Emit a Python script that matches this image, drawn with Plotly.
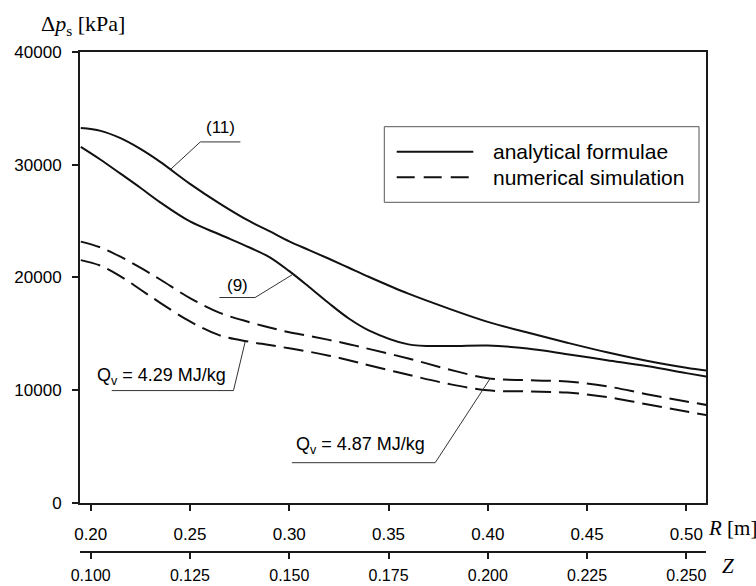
import plotly.graph_objects as go

# ---------------- data ----------------
R = [0.195, 0.205, 0.215, 0.225, 0.235, 0.25, 0.265, 0.28, 0.29, 0.30, 0.31, 0.32, 0.33,
     0.34, 0.36, 0.38, 0.40, 0.42, 0.44, 0.46, 0.48, 0.50, 0.51]

# analytical formula (11) - upper solid
anal_11 = [33250, 33000, 32350, 31400, 30250, 28300, 26550, 24980, 24100, 23200, 22420,
           21650, 20850, 20050, 18550, 17250, 16050, 15100, 14200, 13350, 12600, 11980, 11720]
# analytical formula (9) - lower solid
anal_9 = [31580, 30440, 29200, 27950, 26660, 24960, 23800, 22650, 21800, 20550, 19150,
          17700, 16350, 15300, 14050, 13900, 13950, 13680, 13180, 12650, 12130, 11500, 11190]
# numerical simulation, Qv = 4.87 MJ/kg - upper dashed
num_487 = [23170, 22650, 21830, 20860, 19810, 18160, 16850, 16020, 15550, 15130, 14800,
           14450, 14070, 13650, 12800, 11850, 11050, 10870, 10750, 10330, 9630, 8980, 8680]
# numerical simulation, Qv = 4.29 MJ/kg - lower dashed
num_429 = [21530, 21030, 20090, 18920, 17740, 16090, 14850, 14280, 14000, 13700, 13400,
           13050, 12650, 12200, 11350, 10550, 9970, 9880, 9770, 9380, 8740, 8090, 7790]

R_RANGE = [0.1946, 0.5099]
R_TICKS = [0.20, 0.25, 0.30, 0.35, 0.40, 0.45, 0.50]
R_TICKTEXT = ["0.20", "0.25", "0.30", "0.35", "0.40", "0.45", "0.50"]
Z_TICKS = [0.100, 0.125, 0.150, 0.175, 0.200, 0.225, 0.250]
Z_TICKTEXT = ["0.100", "0.125", "0.150", "0.175", "0.200", "0.225", "0.250"]
Z_RANGE = [R_RANGE[0] / 2, R_RANGE[1] / 2]
Y_TICKS = [0, 10000, 20000, 30000, 40000]
Y_TICKTEXT = ["0", "10000", "20000", "30000", "40000"]

LEGEND_LABELS = ["analytical formulae", "numerical simulation"]

# ---------------- styling ----------------
W, H = 756, 586
ML, MR, MT, MB = 80, 50, 52, 34
PW, PH = W - ML - MR, H - MT - MB
Y_DOMAIN_BOTTOM = (H - MB - 502.7) / PH

SANS = "Liberation Sans, Arial, Helvetica, sans-serif"
SERIF = "Liberation Serif, Times New Roman, serif"
INK = "#111111"
FRAME = "#1a1a1a"
DASH = "20px,8px"


def px(x, y):
    """pixel -> paper coordinates"""
    return (x - ML) / PW, (H - MB - y) / PH


fig = go.Figure()

for vals, dash in [(anal_11, "solid"), (anal_9, "solid"), (num_487, DASH), (num_429, DASH)]:
    fig.add_trace(go.Scatter(x=R, y=vals, mode="lines", line_shape="spline",
                             line=dict(color=INK, width=2, dash=dash),
                             showlegend=False, hoverinfo="skip"))

# helper trace so the Z axis exists
fig.add_trace(go.Scatter(x=Z_TICKS, y=[None] * len(Z_TICKS), xaxis="x2", yaxis="y",
                         mode="lines", showlegend=False, hoverinfo="skip"))

axis_common = dict(showline=True, linecolor=FRAME, linewidth=2, ticks="outside",
                   ticklen=6, tickwidth=1.5, tickcolor=FRAME, showgrid=False,
                   zeroline=False, automargin=False)

fig.update_layout(
    width=W, height=H,
    margin=dict(l=ML, r=MR, t=MT, b=MB, autoexpand=False),
    paper_bgcolor="white", plot_bgcolor="white",
    xaxis=dict(range=R_RANGE, tickvals=R_TICKS, ticktext=R_TICKTEXT, mirror=True,
               anchor="y", ticklabelstandoff=9,
               tickfont=dict(family=SANS, size=17, color="black"), **axis_common),
    xaxis2=dict(range=Z_RANGE, tickvals=Z_TICKS, ticktext=Z_TICKTEXT, overlaying="x",
                anchor="free", position=0, side="bottom", ticklabelstandoff=3,
                tickfont=dict(family=SANS, size=16, color="black"), **axis_common),
    yaxis=dict(range=[0, 40000], tickvals=Y_TICKS, ticktext=Y_TICKTEXT, mirror=True,
               domain=[Y_DOMAIN_BOTTOM, 1], ticklabelstandoff=7,
               tickfont=dict(family=SANS, size=17, color="black"), **axis_common),
)

shapes = []
annotations = []

# legend box
x0, y0 = px(384.3, 202.3)
x1, y1 = px(699, 126.7)
shapes.append(dict(type="rect", xref="paper", yref="paper", x0=x0, y0=y0, x1=x1, y1=y1,
                   line=dict(color="#555555", width=1), fillcolor="white", layer="above"))
for (ly, xe, dash, label) in [(151.7, 473.3, "solid", LEGEND_LABELS[0]),
                              (177.3, 468.7, "18px,9px", LEGEND_LABELS[1])]:
    a0, b0 = px(396.7, ly)
    a1, _ = px(xe, ly)
    shapes.append(dict(type="line", xref="paper", yref="paper", x0=a0, y0=b0, x1=a1, y1=b0,
                       line=dict(color=INK, width=2, dash=dash), layer="above"))
    tx, ty = px(491, ly)
    annotations.append(dict(xref="paper", yref="paper", x=tx, y=ty, xanchor="left",
                            yanchor="middle", text=label, showarrow=False,
                            font=dict(family=SANS, size=21, color="black")))

# leader lines (data coordinates)
leaders = [
    [(0.2754, 32020), (0.2552, 32020), (0.2400, 29550)],   # (11)
    [(0.2648, 18210), (0.2828, 18210), (0.3021, 20300)],   # (9)
    [(0.2106, 9950), (0.2719, 9950), (0.2778, 14300)],     # 4.29
    [(0.3013, 3550), (0.3735, 3550), (0.4013, 11050)],     # 4.87
]
for pts in leaders:
    path = "M " + " L ".join(f"{x},{y}" for x, y in pts)
    shapes.append(dict(type="path", xref="x", yref="y", path=path,
                       line=dict(color="#333333", width=1)))

labels = [
    (0.2652, 33290, "center", "(11)", 17),
    (0.2737, 19270, "center", "(9)", 17),
    (0.2020, 11190, "left", "Q<sub>v</sub> = 4.29 MJ/kg", 18),
    (0.3025, 5060, "left", "Q<sub>v</sub> = 4.87 MJ/kg", 18),
]
for x, y, anc, t, fs in labels:
    annotations.append(dict(xref="x", yref="y", x=x, y=y, xanchor=anc, yanchor="middle",
                            text=t, showarrow=False,
                            font=dict(family=SANS, size=fs, color="black")))

# axis titles
tx, ty = px(39, 25)
annotations.append(dict(xref="paper", yref="paper", x=tx, y=ty, xanchor="left",
                        yanchor="middle", showarrow=False,
                        text="Δ<i>p</i><sub>s</sub> [kPa]",
                        font=dict(family=SERIF, size=22, color="black")))
tx, ty = px(706, 528)
annotations.append(dict(xref="paper", yref="paper", x=tx, y=ty, xanchor="left",
                        yanchor="middle", showarrow=False, text="<i>R</i> [m]",
                        font=dict(family=SERIF, size=21, color="black")))
tx, ty = px(727.5, 566)
annotations.append(dict(xref="paper", yref="paper", x=tx, y=ty, xanchor="center",
                        yanchor="middle", showarrow=False, text="<i>Z</i>",
                        font=dict(family=SERIF, size=21, color="black")))

fig.update_layout(shapes=shapes, annotations=annotations)
fig.write_html("out.html", config={"displayModeBar": False},
               post_script="document.body.style.margin='0';document.body.style.overflow='hidden';")
